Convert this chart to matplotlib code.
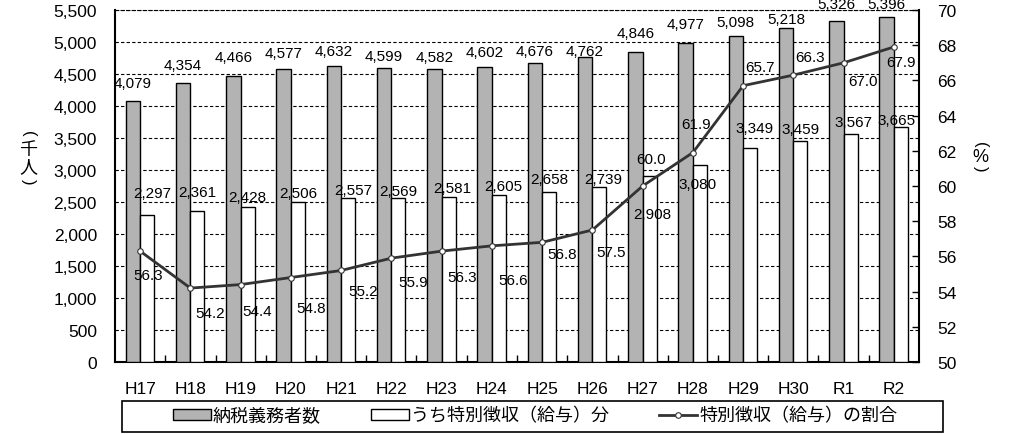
import numpy as np
import matplotlib
matplotlib.use('Agg')
import matplotlib.pyplot as plt
from matplotlib.patches import Patch, Rectangle
from matplotlib.lines import Line2D

plt.rcParams['font.family'] = ['Liberation Sans', 'Noto Sans CJK JP', 'DejaVu Sans']

years = ['H17', 'H18', 'H19', 'H20', 'H21', 'H22', 'H23', 'H24',
         'H25', 'H26', 'H27', 'H28', 'H29', 'H30', 'R1', 'R2']
taxpayers = [4079, 4354, 4466, 4577, 4632, 4599, 4582, 4602,
             4676, 4762, 4846, 4977, 5098, 5218, 5326, 5396]
special = [2297, 2361, 2428, 2506, 2557, 2569, 2581, 2605,
           2658, 2739, 2908, 3080, 3349, 3459, 3567, 3665]
ratio = [56.3, 54.2, 54.4, 54.8, 55.2, 55.9, 56.3, 56.6,
         56.8, 57.5, 60.0, 61.9, 65.7, 66.3, 67.0, 67.9]

# label offsets in pixels (dx, dy; dy up)
gray_dy = [18, 18, 19, 16, 15, 12, 12, 15, 12, 6, 19, 19, 14, 9, 17, 13]
white_dx = [5, 0, 0, 0, 5, 0, 4, 4, 0, 4, 3, -2, 4, 0, 3, -4]
white_dy = [22, 19, 10, 9, 8, 7, 9, 9, 13, 8, -38, -19, 20, 12, 12, 7]
pct_dx = [8, 20, 17, 20, 22, 22, 21, 21, 20, 19, 8, 3, 17, 17, 19, 7]
pct_dy = [-24, -25, -26, -30, -21, -24, -26, -34, -12, -22, 27, 29, 19, 18, -18, -15]

fig = plt.figure(figsize=(10.09, 4.35), dpi=100)
ax = fig.add_axes([115/1009, 1-363/435, 804/1009, 352/435])
ax2 = ax.twinx()

x = np.arange(len(years))
ax.set_zorder(1)
ax2.set_zorder(2)
ax.patch.set_visible(False)

ax.bar(x - 0.29, taxpayers, width=0.29, align='edge', color='#b3b3b3',
       edgecolor='black', linewidth=1, zorder=3)
ax.bar(x, special, width=0.28, align='edge', color='white',
       edgecolor='black', linewidth=1, zorder=3)

ax.set_xlim(-0.5, len(years) - 0.5)
ax.set_ylim(0, 5500)
ax.set_yticks(np.arange(0, 5501, 500))
ax.set_yticklabels([f'{v:,}' for v in range(0, 5501, 500)], fontsize=12.5)
ax.tick_params(axis='y', length=0, pad=13)
ax.set_xticks(x)
ax.set_xticklabels(years, fontsize=12.5)
ax.set_xticks(x[:-1] + 0.5, minor=True)
ax.tick_params(axis='x', which='major', length=0, pad=14)
ax.tick_params(axis='x', which='minor', direction='in', length=5, width=1)
ax.yaxis.grid(True, linestyle=(0, (3, 2)), color='black', linewidth=0.8)
ax.set_axisbelow(True)
for s in ['left', 'bottom', 'right']:
    ax.spines[s].set_linewidth(1.5)
ax.spines['top'].set_linestyle((0, (3, 2)))
ax.spines['top'].set_linewidth(0.8)

for i in range(len(years)):
    ax.annotate(f'{taxpayers[i]:,}', (x[i] - 0.145, taxpayers[i]),
                xytext=(0, gray_dy[i]), textcoords='offset pixels',
                ha='center', va='center', fontsize=11, zorder=5,
                annotation_clip=False)
    ax.annotate(f'{special[i]:,}', (x[i] + 0.14, special[i]),
                xytext=(white_dx[i], white_dy[i]), textcoords='offset pixels',
                ha='center', va='center', fontsize=11, zorder=5)

ax2.plot(x, ratio, color='#333333', linewidth=2, marker='o', markersize=4,
         markerfacecolor='white', markeredgecolor='#333333', markeredgewidth=0.8)
ax2.set_ylim(50, 70)
ax2.set_yticks(np.arange(50, 71, 2))
ax2.tick_params(axis='y', direction='in', length=5, width=1, pad=13, labelsize=12.5)
for s in ax2.spines.values():
    s.set_visible(False)
for i in range(len(years)):
    ax2.annotate(f'{ratio[i]:.1f}', (x[i], ratio[i]),
                 xytext=(pct_dx[i], pct_dy[i]), textcoords='offset pixels',
                 ha='center', va='center', fontsize=11)

# vertical axis titles, stacked characters
def ftxt(px, py, s, rot=0, fs=13):
    fig.text(px/1009, 1-py/435, s, ha='center', va='center', fontsize=fs, rotation=rot)

ftxt(28, 134, '(', -90, 12)
ftxt(28, 151, '千')
ftxt(28, 168, '人')
ftxt(28, 182, ')', -90, 12)
ftxt(980, 145, '(', -90, 12)
ftxt(980, 158, '%')
ftxt(980, 169, ')', -90, 12)

handles = [Patch(facecolor='#b3b3b3', edgecolor='black', linewidth=1),
           Patch(facecolor='white', edgecolor='black', linewidth=1),
           Line2D([], [], color='#333333', linewidth=2, marker='o', markersize=4,
                  markerfacecolor='white', markeredgewidth=0.8)]
labels = ['納税義務者数', 'うち特別徴収（給与）分', '特別徴収（給与）の割合']
leg = fig.legend(handles, labels, loc='center', bbox_to_anchor=(535/1009, 1-417/435),
                 ncol=3, frameon=False, fontsize=13, handlelength=2.1,
                 handleheight=0.6, handletextpad=0.1, columnspacing=2.8)
fig.patches.append(Rectangle((122/1009, 1-433/435), 821/1009, 31/435,
                             transform=fig.transFigure, facecolor='none',
                             edgecolor='black', linewidth=1.2))

fig.savefig('out.png', dpi=100)
